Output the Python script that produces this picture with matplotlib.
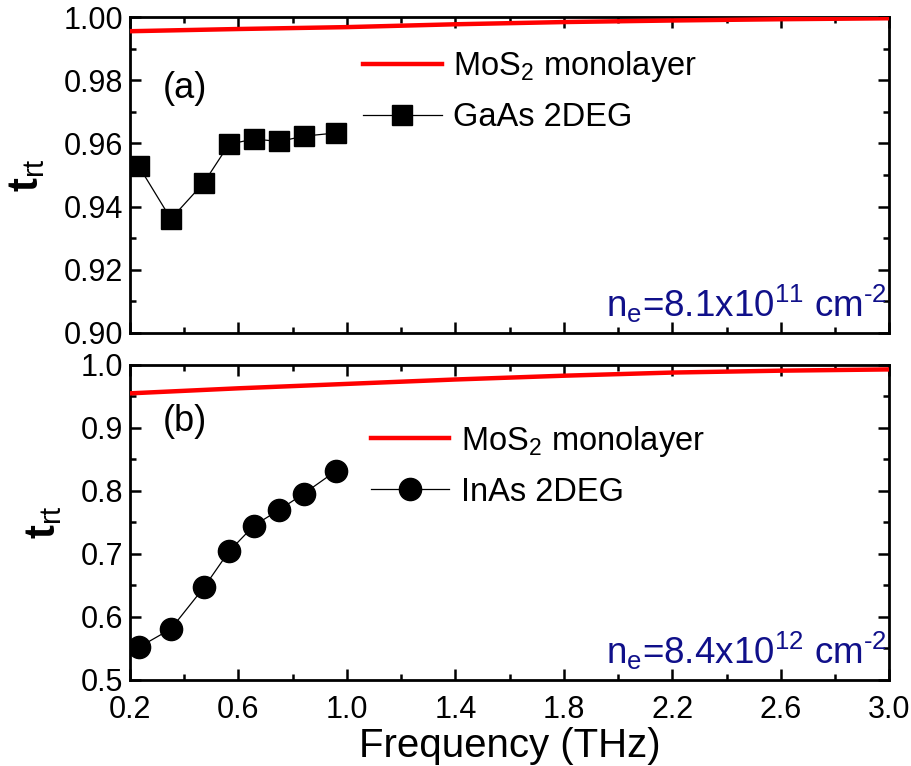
import numpy as np
import matplotlib
matplotlib.use('Agg')
import matplotlib.pyplot as plt
from matplotlib.ticker import FixedLocator, MultipleLocator, FormatStrFormatter

plt.rcParams['font.family'] = ['Liberation Sans', 'DejaVu Sans']
plt.rcParams['mathtext.fontset'] = 'custom'
plt.rcParams['mathtext.rm'] = 'Liberation Sans'
plt.rcParams['mathtext.it'] = 'Liberation Sans'
plt.rcParams['mathtext.bf'] = 'Liberation Sans:bold'

# MoS2 monolayer curves
f_mos = [0.2, 0.6, 1.0, 1.4, 1.8, 2.2, 2.6, 3.0]
t_mos_a = [0.9955, 0.9962, 0.9968, 0.9977, 0.9984, 0.9989, 0.9993, 0.9996]
t_mos_b = [0.955, 0.963, 0.970, 0.977, 0.983, 0.988, 0.991, 0.993]

# 2DEG data
f_2deg = [0.233, 0.351, 0.473, 0.565, 0.657, 0.750, 0.842, 0.960]
t_gaas = [0.9527, 0.9361, 0.9476, 0.9597, 0.9614, 0.9606, 0.9623, 0.9633]
t_inas = [0.552, 0.581, 0.647, 0.704, 0.745, 0.770, 0.796, 0.832]

red = '#ff0000'
navy = '#10108a'

fig = plt.figure(figsize=(9.12, 7.66), dpi=100)
ax1 = fig.add_axes([0.1425, 0.5653, 0.8325, 0.4125])
ax2 = fig.add_axes([0.1425, 0.1123, 0.8325, 0.4112])

ax1.plot(f_mos, t_mos_a, '-', color=red, lw=3.2, label='MoS$_2$ monolayer', zorder=3)
ax1.plot(f_2deg, t_gaas, '-s', color='black', lw=0.9, ms=14, label='GaAs 2DEG')
ax2.plot(f_mos, t_mos_b, '-', color=red, lw=3.2, label='MoS$_2$ monolayer', zorder=3)
ax2.plot(f_2deg, t_inas, '-o', color='black', lw=0.9, ms=16, label='InAs 2DEG')

ax1.set_ylim(0.90, 1.00)
ax1.yaxis.set_major_locator(MultipleLocator(0.02))
ax1.yaxis.set_minor_locator(MultipleLocator(0.01))
ax1.yaxis.set_major_formatter(FormatStrFormatter('%.2f'))
ax2.set_ylim(0.5, 1.0)
ax2.yaxis.set_major_locator(MultipleLocator(0.1))
ax2.yaxis.set_minor_locator(MultipleLocator(0.05))
ax2.yaxis.set_major_formatter(FormatStrFormatter('%.1f'))

for ax in (ax1, ax2):
    ax.set_xlim(0.2, 3.0)
    ax.xaxis.set_major_locator(FixedLocator(np.arange(0.2, 3.01, 0.4)))
    ax.xaxis.set_minor_locator(FixedLocator(np.arange(0.4, 3.0, 0.4)))
    ax.xaxis.set_major_formatter(FormatStrFormatter('%.1f'))
    ax.tick_params(which='both', direction='in', top=True, right=True, width=1.8, labelsize=22)
    ax.tick_params(which='major', length=8)
    ax.tick_params(which='minor', length=4.5)
    ax.tick_params(axis='y', pad=5)
    ax.tick_params(axis='x', pad=11)
    for s in ax.spines.values():
        s.set_linewidth(2)
    ax.set_ylabel('$\\mathbf{t}_{\\mathregular{rt}}$', fontsize=30, labelpad=12)

ax1.tick_params(labelbottom=False)
ax2.set_xlabel('Frequency (THz)', fontsize=29, labelpad=1)

ax1.text(0.043, 0.745, '(a)', transform=ax1.transAxes, fontsize=26)
ax2.text(0.043, 0.79, '(b)', transform=ax2.transAxes, fontsize=26)

ax1.text(0.997, 0.025, 'n$_\\mathregular{e}$=8.1x10$^{11}$ cm$^{\u2010 2}$', transform=ax1.transAxes,
         fontsize=26.5, color=navy, ha='right', va='bottom')
ax2.text(0.997, 0.025, 'n$_\\mathregular{e}$=8.4x10$^{12}$ cm$^{\u2010 2}$', transform=ax2.transAxes,
         fontsize=26.5, color=navy, ha='right', va='bottom')

ax1.legend(loc='upper left', bbox_to_anchor=(0.29, 0.94), frameon=False, fontsize=23.5,
           handlelength=2.4, handletextpad=0.35, labelspacing=0.55, borderaxespad=0)
ax2.legend(loc='upper left', bbox_to_anchor=(0.30, 0.855), frameon=False, fontsize=23.5,
           handlelength=2.4, handletextpad=0.35, labelspacing=0.55, borderaxespad=0)

fig.savefig('out.png', dpi=100)
